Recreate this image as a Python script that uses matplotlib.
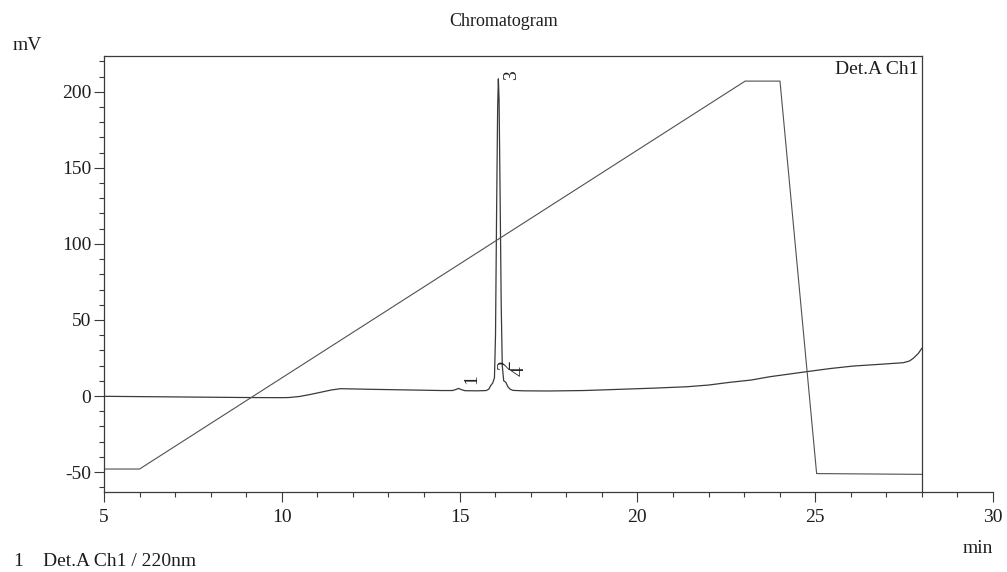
import matplotlib
matplotlib.use("Agg")
import matplotlib.pyplot as plt
from matplotlib.ticker import MultipleLocator

plt.rcParams['font.family'] = ['Liberation Serif', 'DejaVu Serif']
plt.rcParams['axes.unicode_minus'] = False

# ---- data ----
signal_time = [5.0, 6.0, 7.0, 8.0, 9.0, 10.0, 10.2, 10.5, 10.8, 11.1, 11.4, 11.65,
               11.9, 12.5, 13.0, 13.5, 14.0, 14.5, 14.8, 14.9, 14.97, 15.05, 15.15,
               15.5, 15.75, 15.82, 15.88, 15.93, 15.98, 16.01, 16.04, 16.07, 16.09,
               16.11, 16.14, 16.17, 16.20, 16.24, 16.30, 16.36, 16.42, 16.5, 16.8,
               17.5, 18.5, 19.5, 20.5, 21.4, 22.0, 22.6, 23.2, 23.73, 24.2, 24.76,
               25.4, 26.07, 26.8, 27.48, 27.65, 27.76, 27.9, 28.0]
signal_mv = [-0.2, -0.4, -0.6, -0.8, -1.0, -1.1, -1.0, -0.3, 1.0, 2.5, 4.0, 4.8,
             4.7, 4.4, 4.2, 4.0, 3.8, 3.6, 3.6, 4.3, 5.0, 4.2, 3.5,
             3.4, 3.6, 4.5, 7.0, 8.5, 12.0, 40.0, 120.0, 190.0, 208.5,
             195.0, 130.0, 60.0, 20.0, 10.0, 9.0, 6.0, 4.5, 3.7, 3.4,
             3.3, 3.6, 4.4, 5.2, 6.1, 7.2, 9.0, 10.5, 12.7, 14.2, 16.0,
             18.0, 19.7, 20.8, 21.9, 23.0, 24.8, 28.0, 31.4]

gradient_time = [5.0, 6.0, 23.03, 24.01, 25.04, 28.0]
gradient_mv = [-48.0, -48.0, 207.0, 207.0, -51.0, -51.5]

peak_labels = ['1', '2', '3', '4']
peak_label_x = [15.34, 16.30, 16.47, 16.68]
peak_label_y = [10.9, 20.4, 211.0, 16.6]

x_ticks = [5, 10, 15, 20, 25, 30]
y_ticks = [-50, 0, 50, 100, 150, 200]

# ---- figure ----
W, H = 1007, 572
fig = plt.figure(figsize=(W / 100, H / 100), dpi=100)
ax_top, ax_bot = 56, 492
ax = fig.add_axes([104 / W, (H - ax_bot) / H, (993 - 104) / W, (ax_bot - ax_top) / H])

col = '#3a3a3a'
ax.plot(signal_time, signal_mv, color=col, lw=0.9)
ax.plot(gradient_time, gradient_mv, color='#505050', lw=0.8)

xmin, xmax = 5, 30
ymin, ymax = -63.1, 223.5
ax.set_xlim(xmin, xmax)
ax.set_ylim(ymin, ymax)

for s in ['top', 'right']:
    ax.spines[s].set_visible(False)
for s in ['left', 'bottom']:
    ax.spines[s].set_color(col)
    ax.spines[s].set_linewidth(0.9)

# frame that stops at 28 min
box_end = (28 - xmin) / (xmax - xmin)
ax.plot([0, box_end], [1, 1], transform=ax.transAxes, color=col, lw=0.9, clip_on=False)
ax.plot([box_end, box_end], [0, 1], transform=ax.transAxes, color=col, lw=0.9, clip_on=False)

ax.set_xticks(x_ticks)
ax.set_xticklabels([str(v) for v in x_ticks])
ax.set_yticks(y_ticks)
ax.set_yticklabels([str(v) for v in y_ticks])
ax.xaxis.set_minor_locator(MultipleLocator(1))
ax.yaxis.set_minor_locator(MultipleLocator(10))
ax.tick_params(axis='both', which='major', length=7.2, width=0.8, color=col,
               labelsize=14, labelcolor='#1e1e1e', direction='out')
ax.tick_params(axis='both', which='minor', length=3.6, width=0.8, color=col, direction='out')
ax.tick_params(axis='x', which='major', pad=5)
ax.tick_params(axis='y', which='major', pad=2)

for lab, x, y in zip(peak_labels, peak_label_x, peak_label_y):
    ax.text(x, y, lab, rotation=90, ha='center', va='center', fontsize=14, color='#222222')

ax.text(27.9, 220, 'Det.A Ch1', ha='right', va='top', fontsize=14, color='#1e1e1e')

fig.text(0.5, 1 - 22 / H, 'Chromatogram', ha='center', va='center', fontsize=13, color='#1e1e1e')
fig.text(13 / W, 1 - 50 / H, 'mV', ha='left', va='baseline', fontsize=14, color='#1e1e1e')
fig.text(993 / W, 1 - 540 / H, 'min', ha='right', va='top', fontsize=14, color='#1e1e1e')
fig.text(13 / W, 1 - 566 / H, '1', ha='left', va='baseline', fontsize=14, color='#1e1e1e')
fig.text(43 / W, 1 - 566 / H, 'Det.A Ch1 / 220nm', ha='left', va='baseline', fontsize=14, color='#1e1e1e')

fig.savefig('out.png', dpi=100)
